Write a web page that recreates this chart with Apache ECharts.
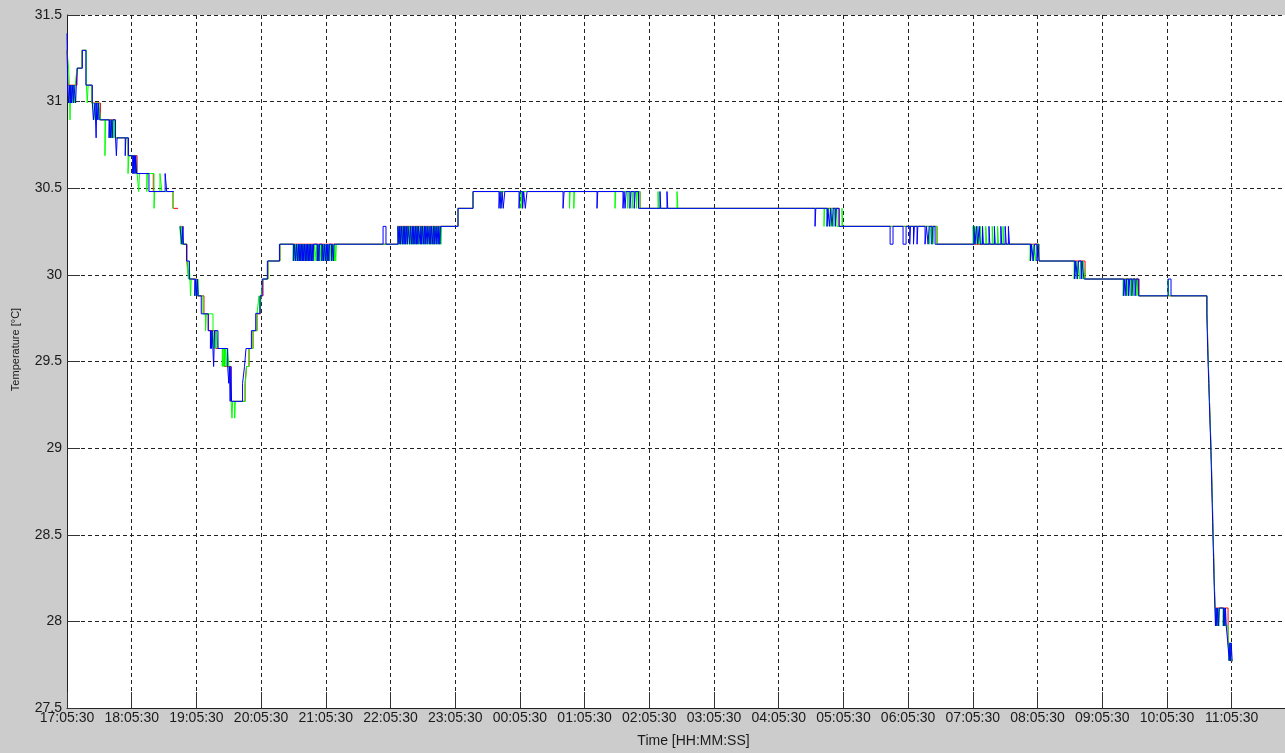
<!DOCTYPE html>
<html>
<head>
<meta charset="utf-8">
<title>Temperature</title>
<script src="https://cdn.jsdelivr.net/npm/echarts@6/dist/echarts.min.js"></script>
<style>
    html, body { margin: 0; padding: 0; background: #cccccc; }
    #temp-chart { width: 1285px; height: 753px; }
</style>
</head>
<body>
<div id="temp-chart"></div>
<script>
// x = minutes since 17:05:30, y = temperature in °C ('-' = gap in the record)
var timeLabels = ['17:05:30', '18:05:30', '19:05:30', '20:05:30', '21:05:30', '22:05:30', '23:05:30',
    '00:05:30', '01:05:30', '02:05:30', '03:05:30', '04:05:30', '05:05:30', '06:05:30',
    '07:05:30', '08:05:30', '09:05:30', '10:05:30', '11:05:30'];

//red sensor (mostly hidden under the others)
var redData = [
    [0, 31.296], [1, 31.095], [9.3, 31.193], [13.9, 31.296], [18, 31.095], [23, 30.992], [31, 30.895],
    [44.5, 30.791], [56.6, 30.688], [65, 30.585], [80, 30.481], [98.3, 30.384], [102, 30.384], [103, '-'],
    [104.8, 30.280], [107, 30.177], [111.3, 30.080], [113, 29.976], [120.6, 29.879], [127, 29.775],
    [131, 29.678], [138, 29.575], [146, 29.471], [152, 29.270], [165.1, 29.374], [166.5, 29.471],
    [168.8, 29.575], [172.5, 29.678], [176.2, 29.775], [179.5, 29.879], [181.8, 29.976], [186.4, 30.080],
    [197.5, 30.177], [306.9, 30.280], [362.6, 30.384], [376.5, 30.481], [531.4, 30.384], [716, 30.280],
    [806.8, 30.177], [901.4, 30.080], [944.1, 29.976], [994.2, 29.879],
    [1057.2, 29.775], [1057.6, 29.678], [1058, 29.575], [1058.5, 29.471], [1059, 29.374], [1059.5, 29.270],
    [1060, 29.173], [1060.5, 29.08], [1061, 28.98], [1061.4, 28.88], [1061.8, 28.78], [1062.2, 28.68],
    [1062.6, 28.57], [1063, 28.47], [1063.4, 28.37], [1063.8, 28.27], [1064.2, 28.174], [1064.7, 28.077],
    [1076.7, 27.876], [1078.5, 27.773], [1081.2, 27.773]
];

//green sensor
var greenData = [
    [0, 31.296], [1.5, 31.193], [2.2, 31.095], [2.8, 30.895], [3.5, 31.095], [5, 30.992], [5.6, 31.095],
    [7, 30.992], [7.6, 31.095], [9.3, 31.193], [13.9, 31.296], [18, 31.095], [18.8, 30.992], [19.6, 31.095],
    [23, 30.992], [25, 30.895], [26.5, 30.992], [29, 30.895], [29.6, 30.992], [31, 30.895], [35.2, 30.688],
    [35.8, 30.895], [39.5, 30.791], [40.2, 30.895], [41.5, 30.791], [42, 30.895], [43, 30.791], [43.6, 30.895],
    [44.5, 30.791], [56.6, 30.585], [57.4, 30.688], [61.2, 30.585], [61.8, 30.688], [63, 30.585], [63.5, 30.688],
    [65, 30.585], [66.5, 30.481], [67.2, 30.585], [74, 30.481], [74.6, 30.585], [80.7, 30.384], [81.3, 30.481],
    [86.2, 30.585], [88, 30.481], [98.3, 30.384], [98.6, 30.384], [99, '-'],
    [104.8, 30.280], [105.5, 30.177], [106.2, 30.280], [107, 30.177], [111, 30.080], [112.6, 29.976],
    [113.3, 30.080], [114, 29.976], [114.6, 29.879], [115.2, 29.976], [119, 29.879], [119.6, 29.976],
    [120.6, 29.879], [121.4, 29.976], [122, 29.879], [126, 29.775], [128.5, 29.678], [129.2, 29.775],
    [135.4, 29.678], [136.2, 29.575], [137, 29.678], [138, 29.575], [138.6, 29.678], [140, 29.575],
    [144, 29.471], [144.5, 29.575], [145.3, 29.471], [145.8, 29.575], [146.5, 29.471], [147, 29.575],
    [148, 29.471], [148.6, 29.575], [150.2, 29.471], [151.5, 29.374], [152.2, 29.270], [153, 29.173],
    [153.6, 29.270], [155.5, 29.173], [156, 29.270], [165.4, 29.374], [166.5, 29.471], [168.8, 29.575],
    [172.5, 29.678], [176.2, 29.775], [178, 29.879], [178.8, 29.775], [180, 29.879], [181.8, 29.976],
    [186.4, 30.080], [197.5, 30.177],
    [209.6, 30.080], [210.2, 30.177], [211.5, 30.080], [212, 30.177], [213.3, 30.080], [214, 30.177],
    [214.8, 30.080], [215.4, 30.177], [216.2, 30.080], [216.8, 30.177], [217.6, 30.080], [218.2, 30.177],
    [219, 30.080], [219.7, 30.177], [220.5, 30.080], [221.1, 30.177], [221.9, 30.080], [222.5, 30.177],
    [223.3, 30.080], [223.9, 30.177], [224.7, 30.080], [225.3, 30.177], [226.1, 30.080], [226.7, 30.177],
    [227.5, 30.080], [228.1, 30.177], [229, 30.080], [229.6, 30.177], [231, 30.080], [231.6, 30.177],
    [232.5, 30.080], [233.1, 30.177], [234, 30.080], [234.6, 30.177], [235.5, 30.080], [236.1, 30.177],
    [237.4, 30.080], [238, 30.177], [238.9, 30.080], [239.5, 30.177], [240.4, 30.080], [241, 30.177],
    [241.9, 30.080], [242.5, 30.177], [243.4, 30.080], [244, 30.177], [244.9, 30.080], [245.5, 30.177],
    [246.4, 30.080], [247, 30.177], [247.9, 30.080], [248.5, 30.177], [249.2, 30.080], [249.8, 30.177],
    [306.9, 30.280], [307.6, 30.177], [308.2, 30.280], [309, 30.177], [309.6, 30.280], [310.4, 30.177],
    [311, 30.280], [311.8, 30.177], [312.4, 30.280], [313.2, 30.177], [313.8, 30.280], [314.6, 30.177],
    [315.2, 30.280], [316, 30.177], [316.6, 30.280], [317.4, 30.177], [318, 30.280], [318.8, 30.177],
    [319.4, 30.280], [320.2, 30.177], [320.8, 30.280], [321.6, 30.177], [322.2, 30.280], [323, 30.177],
    [323.6, 30.280], [324.4, 30.177], [325, 30.280], [325.8, 30.177], [326.4, 30.280], [327.2, 30.177],
    [327.8, 30.280], [328.6, 30.177], [329.2, 30.280], [330, 30.177], [330.6, 30.280], [331.4, 30.177],
    [332, 30.280], [332.8, 30.177], [333.4, 30.280], [334.2, 30.177], [334.8, 30.280], [335.6, 30.177],
    [336.2, 30.280], [337, 30.177], [337.6, 30.280], [338.4, 30.177], [339, 30.280], [339.8, 30.177],
    [340.4, 30.280], [341.2, 30.177], [341.8, 30.280], [342.6, 30.177], [343.2, 30.280], [344, 30.177],
    [344.6, 30.280], [345.4, 30.177], [346, 30.280], [346.8, 30.177], [347.4, 30.280],
    [362.6, 30.384], [376.5, 30.481],
    [402, 30.384], [402.6, 30.481], [421, 30.384], [421.6, 30.481], [466, 30.384], [466.6, 30.481],
    [470, 30.384], [470.6, 30.481], [508.2, 30.384], [508.8, 30.481], [520, 30.384], [520.6, 30.481],
    [524, 30.384], [525, 30.481], [528, 30.384], [529, 30.481], [531.4, 30.384],
    [548.1, 30.481], [548.7, 30.384], [565.7, 30.481], [566.5, 30.384],
    [702, 30.280], [702.6, 30.384], [705, 30.280], [706, 30.384], [708, 30.280], [709, 30.384],
    [711, 30.280], [712, 30.384], [714, 30.280], [718.7, 30.384], [719.3, 30.280],
    [800, 30.177], [801, 30.280], [803, 30.177], [804, 30.280], [806.8, 30.177],
    [840.2, 30.280], [841, 30.177], [842, 30.280], [843, 30.177], [844.5, 30.280], [845.5, 30.177],
    [847, 30.280], [848, 30.177], [852, 30.280], [853, 30.177], [858, 30.280], [858.8, 30.177],
    [863, 30.280], [863.8, 30.177], [868, 30.280], [868.8, 30.177],
    [893.1, 30.080], [894, 30.177], [895.5, 30.080], [896.5, 30.177], [898, 30.080], [899, 30.177], [901.4, 30.080],
    [933.9, 29.976], [935, 30.080], [936.5, 29.976], [937.5, 30.080], [939, 29.976], [940, 30.080],
    [941.5, 29.976], [942.5, 30.080], [944.1, 29.976],
    [979.3, 29.879], [980.5, 29.976], [983, 29.879], [984, 29.976], [986, 29.879], [987, 29.976],
    [989, 29.879], [990, 29.976], [992, 29.879], [993, 29.976], [994.2, 29.879],
    [1021.1, 29.976], [1021.8, 29.879],
    [1057.2, 29.775], [1057.6, 29.678], [1058, 29.575], [1058.5, 29.471], [1059, 29.374], [1059.5, 29.270],
    [1060, 29.173], [1060.5, 29.08], [1061, 28.98], [1061.4, 28.88], [1061.8, 28.78], [1062.2, 28.68],
    [1062.6, 28.57], [1063, 28.47], [1063.4, 28.37], [1063.8, 28.27], [1064.2, 28.174], [1064.7, 28.077],
    [1065.3, 27.974], [1066, 28.077], [1066.7, 27.974], [1067.4, 28.077], [1068.2, 27.974], [1068.8, 28.077],
    [1072, 27.974], [1072.6, 28.077], [1073.4, 27.974], [1074, 28.077], [1074.6, 27.974], [1076.7, 27.876],
    [1077.4, 27.773], [1078, 27.876], [1078.6, 27.773], [1079.2, 27.876], [1079.8, 27.773], [1081.2, 27.773]
];

//blue sensor
var blueData = [
    [0, 31.394], [0.6, 31.095], [1.5, 30.992], [2.1, 31.095], [3, 30.992], [3.5, 31.095], [4.2, 30.992],
    [4.8, 31.095], [6, 30.992], [6.4, 31.095], [8, 30.992], [8.6, 31.095], [9.6, 31.193], [14.2, 31.296],
    [17.5, 31.095], [23.5, 30.992], [24.5, 30.895], [26, 30.992], [27, 30.791], [27.6, 30.992], [28.5, 30.895],
    [29, 30.992], [30, 30.895], [39, 30.791], [39.5, 30.895], [40.5, 30.791], [41, 30.895], [42, 30.791],
    [42.5, 30.895], [45, 30.791], [45.8, 30.688], [46.5, 30.791], [54, 30.688], [54.6, 30.791], [57, 30.688],
    [61, 30.585], [61.5, 30.688], [62, 30.585], [62.5, 30.688], [63.2, 30.585], [63.7, 30.688], [64.5, 30.585],
    [76, 30.481], [91, 30.585], [92.5, 30.481], [98.3, 30.481], [99, '-'],
    [104.8, 30.280], [106.5, 30.177], [107.6, 30.280], [108, 30.177], [110.8, 30.080], [113.5, 29.976],
    [118.5, 29.879], [119.3, 29.976], [120.3, 29.879], [121, 29.976], [121.6, 29.879], [124.5, 29.775],
    [131, 29.678], [133, 29.575], [133.6, 29.678], [134, 29.575], [134.6, 29.678], [136, 29.471],
    [136.8, 29.678], [140, 29.575], [149, 29.471], [150, 29.374], [150.6, 29.471], [151.3, 29.270],
    [152, 29.471], [152.6, 29.270], [162.8, 29.374], [164.6, 29.471], [166, 29.575], [171, 29.678],
    [175, 29.778], [179, 29.879], [181, 29.976], [185.8, 30.080], [197, 30.177],
    [210.2, 30.080], [210.8, 30.177], [212.1, 30.080], [212.7, 30.177], [213.9, 30.080], [214.5, 30.177],
    [215.4, 30.080], [216, 30.177], [216.8, 30.080], [217.4, 30.177], [218.2, 30.080], [218.8, 30.177],
    [219.6, 30.080], [220.2, 30.177], [221.1, 30.080], [221.7, 30.177], [222.5, 30.080], [223.1, 30.177],
    [223.9, 30.080], [224.5, 30.177], [225.3, 30.080], [225.9, 30.177], [226.7, 30.080], [227.3, 30.177],
    [228.1, 30.080], [228.7, 30.177], [232.1, 30.080], [232.7, 30.177], [233.6, 30.080], [234.2, 30.177],
    [236.4, 30.080], [237, 30.177], [238, 30.080], [238.6, 30.177], [239.8, 30.080], [240.4, 30.177],
    [241.3, 30.080], [241.9, 30.177], [242.8, 30.080], [243.4, 30.177], [245.3, 30.080], [245.9, 30.177],
    [247, 30.080], [247.6, 30.177],
    [293.1, 30.280], [295.8, 30.177],
    [306.9, 30.280], [308, 30.177], [308.6, 30.280], [309.4, 30.177], [310, 30.280], [311.2, 30.177],
    [311.8, 30.280], [312.6, 30.177], [313.2, 30.280], [314, 30.177], [314.6, 30.280], [315.6, 30.177],
    [316.2, 30.280], [317.8, 30.177], [318.4, 30.280], [319.6, 30.177], [320.2, 30.280], [321, 30.177],
    [321.6, 30.280], [322.6, 30.177], [323.2, 30.280], [324, 30.177], [324.6, 30.280], [325.4, 30.177],
    [326, 30.280], [327.6, 30.177], [328.2, 30.280], [329, 30.177], [329.6, 30.280], [330.8, 30.177],
    [331.4, 30.280], [332.2, 30.177], [332.8, 30.280], [334, 30.177], [334.6, 30.280], [336, 30.177],
    [336.6, 30.280], [337.4, 30.177], [338, 30.280], [339.2, 30.177], [339.8, 30.280], [340.6, 30.177],
    [341.2, 30.280], [342.4, 30.177], [343, 30.280], [344.2, 30.177], [344.8, 30.280], [345.8, 30.177],
    [346.4, 30.280],
    [362.6, 30.384], [376.5, 30.481],
    [400.6, 30.384], [401.5, 30.481], [402.5, 30.384], [403.5, 30.481], [404.5, 30.384], [406, 30.481],
    [419.2, 30.384], [420, 30.481], [422.5, 30.384], [423.5, 30.481], [425, 30.384], [426.6, 30.481],
    [460, 30.384], [461, 30.481], [491.5, 30.384], [492.2, 30.481], [515.6, 30.384], [516.6, 30.481],
    [517.5, 30.384], [518.5, 30.481], [522, 30.384], [523, 30.481], [526, 30.384], [527, 30.481], [530, 30.384],
    [549.9, 30.481], [550.6, 30.384], [556.4, 30.481], [557.1, 30.384],
    [693.7, 30.280], [694.4, 30.384], [704.8, 30.280], [705.6, 30.384], [707, 30.280], [708, 30.384],
    [709.5, 30.280], [710.5, 30.384], [712.5, 30.280], [713.5, 30.384], [716, 30.280],
    [763.3, 30.177], [766, 30.280], [775.3, 30.177], [778.1, 30.280], [781.5, 30.177], [782.2, 30.280],
    [785, 30.177], [785.8, 30.280], [788.3, 30.177], [789, 30.280], [795.7, 30.177], [797, 30.280],
    [798.5, 30.177], [799.5, 30.280], [802, 30.177], [803, 30.280], [805, 30.177],
    [841, 30.280], [842, 30.177], [843.5, 30.280], [844.5, 30.177], [846, 30.280], [847, 30.177],
    [849, 30.280], [849.8, 30.177], [855, 30.280], [855.8, 30.177], [860, 30.280], [860.8, 30.177],
    [866, 30.280], [866.8, 30.177], [870, 30.280], [871, 30.177], [873, 30.280], [874, 30.177],
    [893.5, 30.080], [894.5, 30.177], [896, 30.080], [897.2, 30.177], [899.5, 30.080], [900.5, 30.177], [901.4, 30.080],
    [934.5, 29.976], [935.5, 30.080], [937, 29.976], [938, 30.080], [940.5, 29.976], [941.3, 30.080], [943, 29.976],
    [980, 29.879], [981, 29.976], [982, 29.879], [982.6, 29.976], [984.5, 29.879], [985.5, 29.976],
    [987.5, 29.879], [988.5, 29.976], [990.5, 29.879], [991.5, 29.976], [993.5, 29.879],
    [1021.1, 29.976], [1023.8, 29.879],
    [1057, 29.775], [1057.8, 29.575], [1058.3, 29.471], [1058.8, 29.374], [1059.3, 29.270], [1059.8, 29.173],
    [1060.3, 29.08], [1060.8, 28.98], [1061.2, 28.88], [1061.6, 28.78], [1062, 28.68], [1062.4, 28.57],
    [1062.8, 28.47], [1063.2, 28.37], [1063.6, 28.27], [1064, 28.174], [1064.5, 28.077],
    [1065, 27.974], [1065.6, 28.077], [1066.3, 27.974], [1067, 28.077], [1067.8, 27.974], [1068.5, 28.077],
    [1072.5, 27.974], [1073, 28.077], [1073.8, 27.974], [1074.3, 28.077], [1075, 27.974], [1076.5, 27.876],
    [1077.8, 27.773], [1078.4, 27.876], [1079, 27.773], [1079.6, 27.876], [1080.5, 27.773], [1081, 27.773]
];

var tempChart = echarts.init(document.getElementById('temp-chart'));
var tempOption = {
    backgroundColor: '#cccccc',
    animation: false,
    grid: {
        left: 67,
        top: 15,
        right: 0,
        bottom: 41,
        show: true,
        backgroundColor: '#ffffff',
        borderWidth: 0
    },
    xAxis: {
        type: 'value',
        min: 0,
        max: 1129.5,    // plot area is cut off at the right edge of the screenshot
        interval: 60,
        name: 'Time [HH:MM:SS]',
        nameLocation: 'middle',
        nameGap: 26,
        nameTextStyle: { fontFamily: 'Liberation Sans', fontSize: 14, color: '#1a1a1a', padding: [0, 0, 0, 35] },
        axisLine: { onZero: false, lineStyle: { color: '#222', width: 1 } },
        axisTick: { inside: true, length: 16, lineStyle: { color: '#333' } },
        axisLabel: {
            margin: 3,
            fontFamily: 'Liberation Sans',
            fontSize: 14,
            color: '#1a1a1a',
            showMaxLabel: false,
            formatter: function (v) {
                return v % 60 === 0 ? (timeLabels[v / 60] || '') : '';
            }
        },
        splitLine: { show: true, lineStyle: { color: '#222', type: [4, 3], width: 1 } }
    },
    yAxis: {
        type: 'value',
        min: 27.5,
        max: 31.5,
        interval: 0.5,
        name: 'Temperature [°C]',
        nameLocation: 'middle',
        nameGap: 46,
        nameTextStyle: { fontFamily: 'Liberation Sans', fontSize: 11, color: '#1a1a1a', padding: [0, 0, 0, 24] },
        axisLine: { onZero: false, lineStyle: { color: '#222', width: 1 } },
        axisTick: { inside: true, length: 13, lineStyle: { color: '#333' } },
        axisLabel: { margin: 5, fontFamily: 'Liberation Sans', fontSize: 14, color: '#1a1a1a' },
        splitLine: { show: true, lineStyle: { color: '#222', type: [4, 3], width: 1 } }
    },
    series: [
        {
            name: 'red', type: 'line', step: 'end', symbol: 'none', data: redData,
            lineStyle: { color: '#ff0000', width: 1 }
        },
        {
            name: 'green', type: 'line', step: 'end', symbol: 'none', data: greenData,
            lineStyle: { color: '#00ff00', width: 1 }
        },
        {
            name: 'blue', type: 'line', step: 'end', symbol: 'none', data: blueData,
            lineStyle: { color: '#0000ff', width: 1 }
        }
    ]
};
tempChart.setOption(tempOption);
</script>
</body>
</html>
